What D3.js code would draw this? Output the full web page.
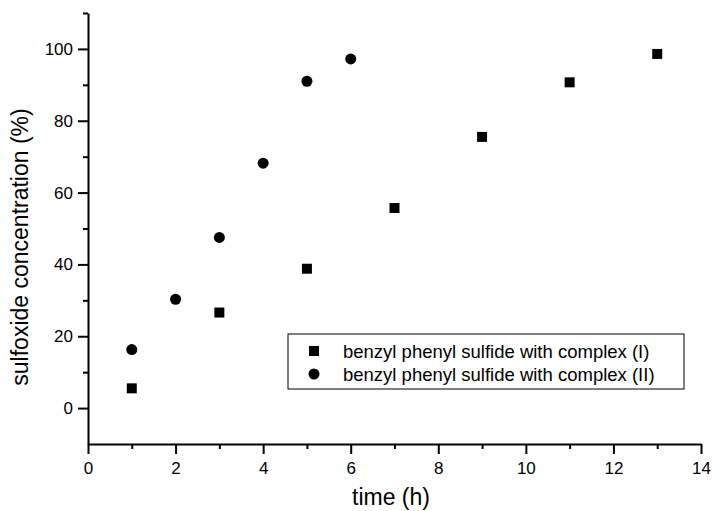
<!DOCTYPE html>
<html>
<head>
<meta charset="utf-8">
<script src="https://cdn.jsdelivr.net/npm/d3@7"></script>
<style>
  body { margin: 0; background: #fff; }
  svg { display: block; font-family: "Liberation Sans", Arial, sans-serif; }
</style>
</head>
<body>
<div id="chart"></div>
<script>
// data
const timeI = [1, 3, 5, 7, 9, 11, 13];
const concI = [5.5, 26.6, 38.8, 55.7, 75.5, 90.7, 98.6];
const timeII = [1, 2, 3, 4, 5, 6];
const concII = [16.3, 30.3, 47.5, 68.2, 91.0, 97.2];
const xTicks = [0, 2, 4, 6, 8, 10, 12, 14];
const xMinor = [1, 3, 5, 7, 9, 11, 13];
const yTicks = [0, 20, 40, 60, 80, 100];
const yMinor = [10, 30, 50, 70, 90, 110];
const legendLabels = ["benzyl phenyl sulfide with complex (I)", "benzyl phenyl sulfide with complex (II)"];

const width = 712, height = 511;
const margin = {top: 13, right: 11, bottom: 67, left: 88};

const svg = d3.select("#chart").append("svg")
    .attr("width", width)
    .attr("height", height);

const x = d3.scaleLinear().domain([0, 14]).range([margin.left, width - margin.right]);
const y = d3.scaleLinear().domain([-10, 110]).range([height - margin.bottom, margin.top]);

// minor ticks first
svg.append("g")
    .attr("transform", `translate(0,${height - margin.bottom})`)
    .call(d3.axisBottom(x).tickValues(xMinor).tickSize(5).tickFormat(""))
    .call(g => g.select(".domain").remove());
svg.append("g")
    .attr("transform", `translate(${margin.left},0)`)
    .call(d3.axisLeft(y).tickValues(yMinor).tickSize(5).tickFormat(""))
    .call(g => g.select(".domain").remove());

// major axes
const xAxis = svg.append("g")
    .attr("transform", `translate(0,${height - margin.bottom})`)
    .call(d3.axisBottom(x).tickValues(xTicks).tickSize(10).tickSizeOuter(0).tickPadding(6));
const yAxis = svg.append("g")
    .attr("transform", `translate(${margin.left},0)`)
    .call(d3.axisLeft(y).tickValues(yTicks).tickSize(10).tickSizeOuter(0).tickPadding(5));

svg.selectAll(".tick line, .domain").attr("stroke", "#000").attr("stroke-width", 2);
svg.selectAll(".tick text").attr("fill", "#000").style("font-size", "17px");
xAxis.selectAll(".tick text").attr("dy", "0.85em");

// axis titles
svg.append("text")
    .attr("x", 391)
    .attr("y", 505)
    .attr("text-anchor", "middle")
    .style("font-size", "23px")
    .text("time (h)");

svg.append("text")
    .attr("transform", "translate(28,247) rotate(-90)")
    .attr("text-anchor", "middle")
    .style("font-size", "23px")
    .text("sulfoxide concentration (%)");

// points
const square = d3.symbol().type(d3.symbolSquare).size(100);
const circle = d3.symbol().type(d3.symbolCircle).size(95);

svg.append("g").selectAll("path")
    .data(timeI.map((t, i) => [t, concI[i]]))
    .join("path")
    .attr("transform", d => `translate(${x(d[0])},${y(d[1])})`)
    .attr("d", square)
    .attr("fill", "#000");

svg.append("g").selectAll("path")
    .data(timeII.map((t, i) => [t, concII[i]]))
    .join("path")
    .attr("transform", d => `translate(${x(d[0])},${y(d[1])})`)
    .attr("d", circle)
    .attr("fill", "#000");

// legend
const legend = svg.append("g").attr("transform", "translate(288,334)");
legend.append("rect")
    .attr("width", 396)
    .attr("height", 55)
    .attr("fill", "#fff")
    .attr("stroke", "#000")
    .attr("stroke-width", 1);

const shapes = [square, circle];
legendLabels.forEach((label, i) => {
    const row = legend.append("g").attr("transform", `translate(0,${17 + i * 23})`);
    row.append("path")
        .attr("transform", "translate(26,0)")
        .attr("d", shapes[i])
        .attr("fill", "#000");
    row.append("text")
        .attr("x", 55)
        .attr("y", 6.5)
        .style("font-size", "18.5px")
        .text(label);
});
</script>
</body>
</html>
